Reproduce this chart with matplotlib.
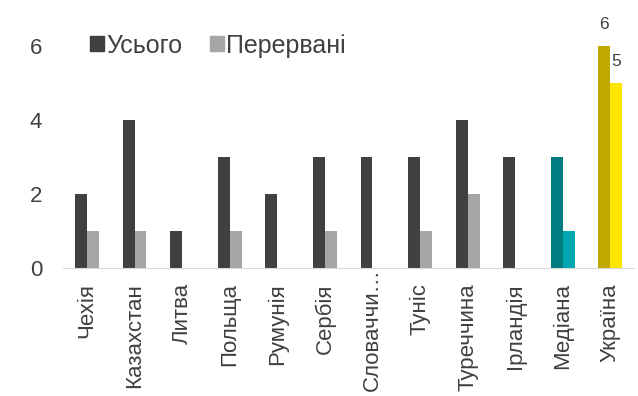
import matplotlib.pyplot as plt
import numpy as np

plt.rcParams['font.family'] = ['Liberation Sans', 'DejaVu Sans']

# -----------------------------
# data
# -----------------------------
countries = ["Чехія", "Казахстан", "Литва", "Польща", "Румунія", "Сербія",
             "Словаччи…", "Туніс", "Туреччина", "Ірландія", "Медіана", "Україна"]
total = [2, 4, 1, 3, 2, 3, 3, 3, 4, 3, 3, 6]
broken = [1, 1, 0, 1, 0, 1, 0, 1, 2, 0, 1, 5]
yticks = [0, 2, 4, 6]

# colours: default greys, median teal, Ukraine yellow
dark = ["#404040"] * 10 + ["#007b80", "#bfa800"]
light = ["#a6a6a6"] * 10 + ["#00a5b0", "#ffe600"]

fig = plt.figure(figsize=(6.38, 3.96), dpi=100)
ax = fig.add_axes([0.099, 0.323, 0.895, 0.598])

x = np.arange(len(countries))
w = 0.25
b1 = ax.bar(x - w / 2, total, w, color=dark, label="Усього")
b2 = ax.bar(x + w / 2, broken, w, color=light, label="Перервані")

# value labels only for Ukraine
last = len(countries) - 1
ax.text(x[last] - w / 2, total[last] + 0.38, str(total[last]),
        ha="center", va="bottom", fontsize=12.5, color="#404040")
ax.text(x[last] + w / 2, broken[last] + 0.38, str(broken[last]),
        ha="center", va="bottom", fontsize=12.5, color="#404040")

ax.set_xlim(-0.5, len(countries) - 0.5)
ax.set_ylim(0, 6.4)
ax.set_yticks(yticks)
ax.set_xticks(x)
ax.set_xticklabels(countries, rotation=90, fontsize=16, color="#404040")
ax.tick_params(axis="y", labelsize=16, labelcolor="#404040", length=0, pad=15)
ax.tick_params(axis="x", length=0, pad=11)

# the truncated label sits higher, right up against the axis (Excel style)
long_i = countries.index("Словаччи…")
ax.get_xticklabels()[long_i].set_visible(False)
ax.text(x[long_i], 0.0, countries[long_i], rotation=90, fontsize=16,
        color="#404040", ha="center", va="top",
        transform=ax.get_xaxis_transform())

for s in ["top", "right", "left"]:
    ax.spines[s].set_visible(False)
ax.spines["bottom"].set_color("#d9d9d9")

leg = ax.legend(handles=[b1[0], b2[0]], labels=["Усього", "Перервані"],
                loc="upper left", bbox_to_anchor=(0.008, 1.085), ncol=2,
                frameon=False, fontsize=18, handlelength=0.55, handleheight=0.55,
                handletextpad=0.1, columnspacing=1.1, labelcolor="#404040")
leg.legend_handles[0].set_color("#404040")
leg.legend_handles[1].set_color("#a6a6a6")

fig.savefig("out.png", dpi=100)
